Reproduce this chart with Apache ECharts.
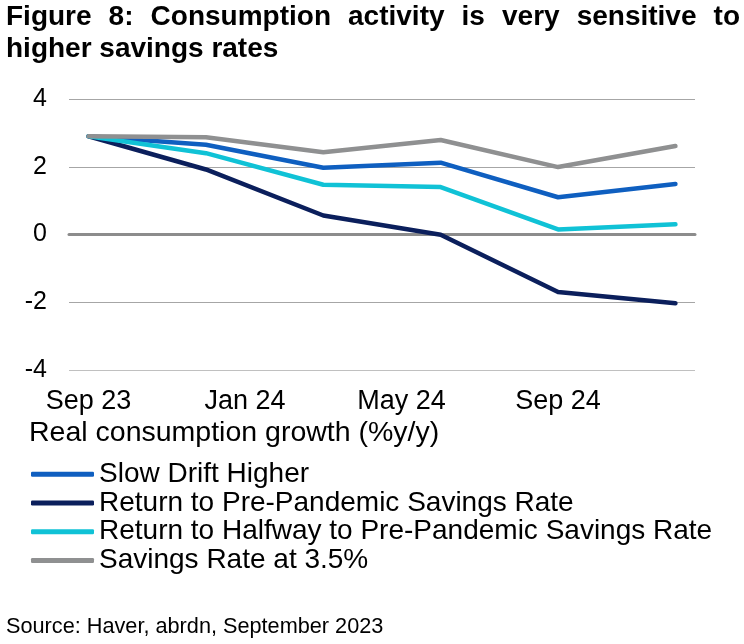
<!DOCTYPE html>
<html>
<head>
<meta charset="utf-8">
<script src="https://cdn.jsdelivr.net/npm/echarts@6/dist/echarts.min.js"></script>
<style>
html,body{margin:0;padding:0;background:#fff;}
#chart{width:744px;height:644px;}
</style>
</head>
<body>
<div id="chart"></div>
<script>
// ---- DATA ----
var months = ['Sep 23','Oct 23','Nov 23','Dec 23','Jan 24','Feb 24','Mar 24','Apr 24','May 24','Jun 24','Jul 24','Aug 24','Sep 24','Oct 24','Nov 24','Dec 24'];
var slowDrift      = [2.90, null, null, 2.65, null, null, 1.97, null, null, 2.12, null, null, 1.10, null, null, 1.49];
var returnPre      = [2.90, null, null, 1.92, null, null, 0.56, null, null, -0.01, null, null, -1.70, null, null, -2.03];
var returnHalfway  = [2.90, null, null, 2.40, null, null, 1.47, null, null, 1.40, null, null, 0.15, null, null, 0.30];
var savings35      = [2.90, null, null, 2.87, null, null, 2.43, null, null, 2.79, null, null, 1.99, null, null, 2.61];
var seriesNames = ['Slow Drift Higher','Return to Pre-Pandemic Savings Rate','Return to Halfway to Pre-Pandemic Savings Rate','Savings Rate at 3.5%'];
var yTicks = {min: -4, max: 4, interval: 2};
var titleLine1 = ['Figure','8:','Consumption','activity','is','very','sensitive','to'];
var titleLine2 = 'higher savings rates';
var yAxisTitle = 'Real consumption growth (%y/y)';
var sourceText = 'Source: Haver, abrdn, September 2023';

// ---- STYLE ----
var FONT = '"Liberation Sans", Arial, Helvetica, sans-serif';
var colors = ['#0f5fc0', '#0b1f5c', '#10c2d6', '#8f9091'];

// justify title line 1
var cv = document.createElement('canvas').getContext('2d');
cv.font = 'bold 28px ' + FONT;
var leftX = 6, rightX = 740;
var widths = titleLine1.map(function(w){ return cv.measureText(w).width; });
var total = widths.reduce(function(a,b){return a+b;},0);
var gap = (rightX - leftX - total) / (titleLine1.length - 1);
var graphics = [];
var x = leftX;
titleLine1.forEach(function(w, i){
  graphics.push({type:'text', x: x, y: 17, style:{text: w, font: 'bold 28px ' + FONT, fill:'#000', align:'left', verticalAlign:'middle'}});
  x += widths[i] + gap;
});
graphics.push({type:'text', x: leftX, y: 49, style:{text: titleLine2, font: 'bold 28px ' + FONT, fill:'#000', align:'left', verticalAlign:'middle'}});
graphics.push({type:'text', x: 29, y: 433, style:{text: yAxisTitle, font: '28.5px ' + FONT, fill:'#000', align:'left', verticalAlign:'middle'}});
graphics.push({type:'text', x: 6, y: 627, style:{text: sourceText, font: '21.7px ' + FONT, fill:'#000', align:'left', verticalAlign:'middle'}});

var dataSets = [slowDrift, returnPre, returnHalfway, savings35];
var series = dataSets.map(function(d, i){
  return {
    name: seriesNames[i], type:'line', data: d, connectNulls: true, symbol:'none',
    xAxisIndex: 0, yAxisIndex: 0,
    lineStyle:{color: colors[i], width: 4.5, cap:'round', join:'round'},
    itemStyle:{color: colors[i]},
    emphasis:{disabled:true}, silent:true, animation:false
  };
});

var chart = echarts.init(document.getElementById('chart'), null, {renderer:'canvas'});
chart.setOption({
  animation: false,
  backgroundColor: '#fff',
  grid: {left: 69, right: 49, top: 99, bottom: 274, containLabel: false},
  xAxis: [{
    type:'category', data: months, boundaryGap: true, position:'bottom',
    axisLine:{show:false, onZero:false}, axisTick:{show:false}, splitLine:{show:false},
    axisLabel:{interval:3, margin:18, fontSize:27, fontFamily:FONT, color:'#000'}
  },{
    type:'category', data: months, boundaryGap: true, position:'top',
    axisLine:{show:true, onZero:true, lineStyle:{color:'#8c8c8c', width:3}},
    axisTick:{show:false}, axisLabel:{show:false}, splitLine:{show:false}
  }],
  yAxis: {
    type:'value', min: yTicks.min, max: yTicks.max, interval: yTicks.interval,
    axisLine:{show:false}, axisTick:{show:false},
    axisLabel:{margin:22, fontSize:25, fontFamily:FONT, color:'#000'},
    splitLine:{show:true, lineStyle:{color:['#c0c0c0','#a6a6a6','#a6a6a6','#a6a6a6','#a6a6a6'], width:1}}
  },
  legend: {
    orient:'vertical', left: 31, top: 460, padding: 0, itemGap: 0, itemWidth: 63, itemHeight: 5,
    icon:'roundRect', data: seriesNames, selectedMode:false,
    textStyle:{fontSize:28, fontFamily:FONT, color:'#000', lineHeight:28.7}
  },
  graphic: graphics,
  series: series
});
</script>
</body>
</html>
